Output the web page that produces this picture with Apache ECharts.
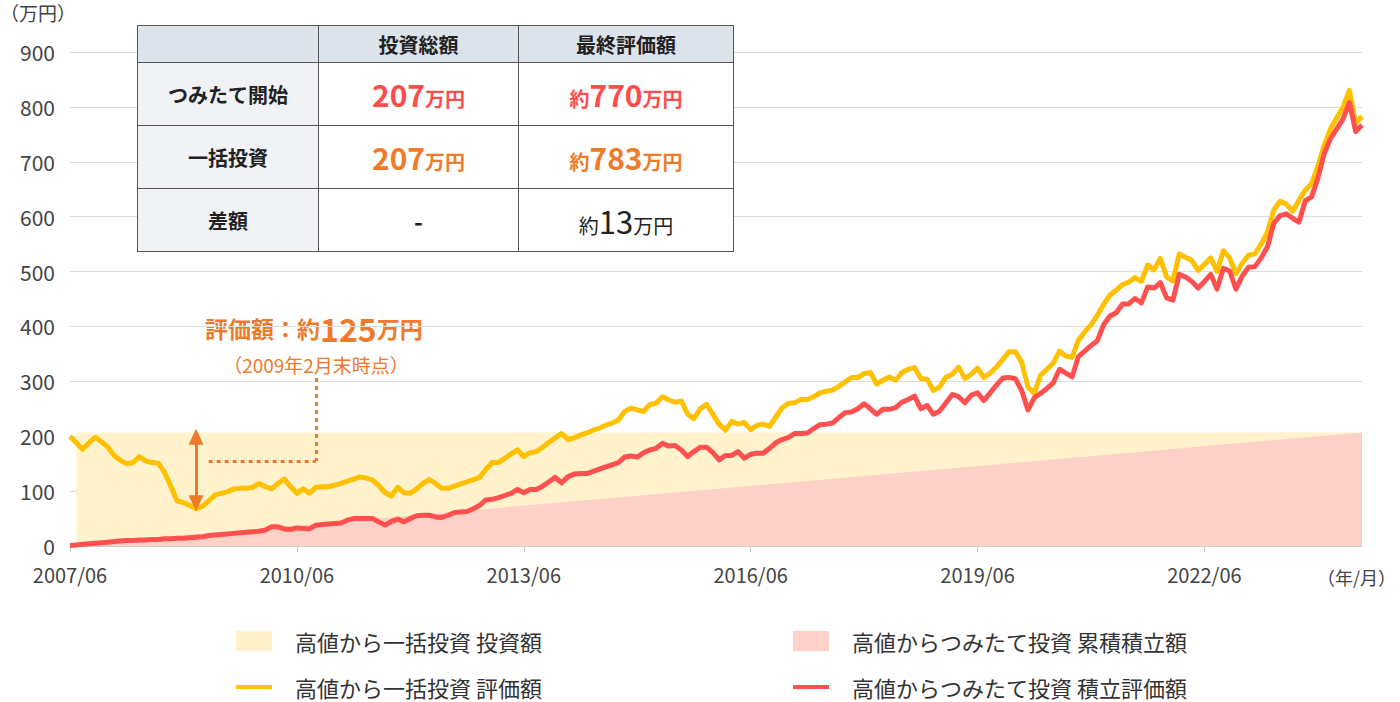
<!DOCTYPE html>
<html><head><meta charset="utf-8">
<script src="https://cdn.jsdelivr.net/npm/echarts@6.0.0/dist/echarts.min.js"></script>
<style>
html,body{margin:0;padding:0;background:#fff;}
#wrap{position:relative;width:1400px;height:702px;overflow:hidden;}
#chart{position:absolute;left:0;top:0;width:1400px;height:702px;}
#tbl{position:absolute;left:137px;top:25px;border-collapse:collapse;font-family:"Noto Sans CJK JP","Noto Sans",sans-serif;font-weight:bold;color:#222;table-layout:fixed;}
#tbl td{border:1px solid #555;text-align:center;vertical-align:middle;padding:0;background:#fff;white-space:nowrap;}
#tbl tr.hd td{background:#dde3ea;height:36px;font-size:20px;}
#tbl tr.rw td{height:62px;}
#tbl td.lab{background:#f0f2f6;font-size:20px;}
.big{font-size:30px;letter-spacing:0;}
.unit{font-size:20px;}
.dash{font-size:24px;font-weight:bold;}
.red{color:#ff4b4b;}
.org{color:#ee7a2a;}
.dk{color:#222;font-weight:normal;}
.dk .big{font-weight:normal;font-size:31px;}
</style>
</head><body>
<div id="wrap">
<div id="chart"></div>
<table id="tbl">
<colgroup><col style="width:181px"><col style="width:200px"><col style="width:215px"></colgroup>
<tr class="hd"><td></td><td>投資総額</td><td>最終評価額</td></tr>
<tr class="rw"><td class="lab">つみたて開始</td><td class="red"><span class="big">207</span><span class="unit">万円</span></td><td class="red"><span class="unit">約</span><span class="big">770</span><span class="unit">万円</span></td></tr>
<tr class="rw"><td class="lab">一括投資</td><td class="org"><span class="big">207</span><span class="unit">万円</span></td><td class="org"><span class="unit">約</span><span class="big">783</span><span class="unit">万円</span></td></tr>
<tr class="rw"><td class="lab">差額</td><td><span class="dash">-</span></td><td class="dk"><span class="unit">約</span><span class="big">13</span><span class="unit">万円</span></td></tr>
</table>
</div>
<script>
// ---- data ----
const startYear = 2007, startMonth = 6, monthCount = 206;
const months = [];
for (let k = 0; k < monthCount; k++) {
  const t = startMonth - 1 + k;
  months.push((startYear + Math.floor(t / 12)) + '/' + String(t % 12 + 1).padStart(2, '0'));
}
// 高値から一括投資 評価額 (万円, monthly)
const lumpSumValue = [
200,188,176,188,198,190,180,165,156,150,152,163,155,152,151,134,109,82,79,74,
68,72,82,93,96,99,104,105,105,107,114,108,104,114,122,108,96,104,96,107,
108,108,111,114,118,122,126,124,120,110,97,91,107,97,96,104,114,121,114,105,
105,109,113,117,121,125,140,152,152,160,168,175,163,170,172,180,189,197,205,194,
197,202,206,211,215,220,224,229,245,251,248,245,258,260,272,266,262,264,240,232,
250,258,240,222,211,227,222,225,212,220,222,218,235,252,260,261,267,267,272,279,
282,284,291,299,307,307,314,316,295,302,308,302,316,322,325,305,304,283,290,308,
313,326,305,313,324,307,315,326,340,354,354,335,290,278,311,322,333,355,346,344,
375,390,403,420,440,457,466,476,481,489,482,512,503,524,490,483,532,526,520,502,
513,525,500,538,525,496,515,530,532,550,572,612,628,623,610,630,648,660,692,730,
760,780,800,830,770,783];
// 高値からつみたて投資 積立評価額 (万円, monthly)
const tsumitateValue = [
1,2,3,4,5,6,7,8,9,10,10,11,11,12,12,13,13,14,14,15,
16,17,19,20,21,22,23,24,25,26,27,29,35,35,31,30,33,32,31,38,
39,40,41,42,47,50,50,50,50,44,38,45,49,44,50,55,56,56,53,52,
56,61,62,63,68,74,84,85,88,92,96,103,97,103,103,109,117,125,115,126,
131,132,132,136,140,144,148,152,162,164,162,170,175,178,187,182,183,175,163,172,
180,180,170,157,165,165,172,160,167,169,169,178,188,194,198,205,205,206,214,221,
222,224,234,243,244,250,259,250,240,249,249,252,262,267,273,250,256,240,246,261,
276,272,261,275,279,265,279,293,306,307,305,283,248,270,278,287,297,322,315,308,
345,355,365,374,403,419,425,441,441,451,443,472,470,480,452,448,495,490,482,470,
482,495,468,506,501,468,492,508,509,525,545,588,602,605,597,590,629,636,670,715,
742,760,778,808,755,767];
// 高値から一括投資 投資額 (万円)
const principalIdx = [1, 205];
const principalValue = [207, 207];
// 高値からつみたて投資 累積積立額 (万円)
const cumulativeIdx = [0, 205];
const cumulativeValue = [1, 207];
// y-axis ticks
const yMin = 0, yMax = 900, yStep = 100;

const FONT = '"Noto Sans CJK JP","Noto Sans",sans-serif';
const ORANGE = '#ee7a2b';
const pairs = (xs, ys) => xs.map((x, i) => [x, ys[i]]);

const chart = echarts.init(document.getElementById('chart'), null, {renderer: 'svg'});
const legendBase = (left, top, name, h, w) => ({
  left: left, top: top, padding: 0, selectedMode: false, icon: 'rect',
  itemWidth: w, itemHeight: h, data: [name],
  textStyle: {fontSize: 22, color: '#333', fontFamily: FONT, padding: [0, 0, 0, 18]}
});
chart.setOption({
  animation: false,
  textStyle: {fontFamily: FONT},
  grid: {left: 70, right: 38, top: 52, bottom: 156},
  xAxis: [{
    type: 'category', data: months, boundaryGap: false,
    axisLine: {lineStyle: {color: '#d0d0d0'}},
    axisTick: {interval: 35, length: 6, lineStyle: {color: '#c8c8c8'}},
    axisLabel: {interval: 35, fontSize: 20, color: '#444', margin: 18, fontFamily: FONT},
    splitLine: {show: false}
  }, {
    type: 'value', min: 0, max: monthCount - 1, show: false
  }],
  yAxis: {
    type: 'value', min: yMin, max: yMax, interval: yStep,
    axisLine: {show: false}, axisTick: {show: false},
    axisLabel: {fontSize: 21, color: '#444', margin: 15, fontFamily: FONT},
    splitLine: {lineStyle: {color: '#dcdcdc', width: 1}}
  },
  legend: [
    legendBase(236, 630, '高値から一括投資 投資額', 20, 36),
    legendBase(793, 630, '高値からつみたて投資 累積積立額', 20, 36),
    legendBase(236, 676, '高値から一括投資 評価額', 4, 36),
    legendBase(793, 676, '高値からつみたて投資 積立評価額', 4, 36)
  ],
  series: [{
    name: '高値から一括投資 投資額', type: 'line', xAxisIndex: 1,
    data: pairs(principalIdx, principalValue), symbol: 'none', silent: true,
    color: '#fff2cc', itemStyle: {color: '#fff2cc'},
    lineStyle: {width: 0, color: '#fff2cc'}, areaStyle: {color: '#fff2cc', opacity: 1}
  }, {
    name: '高値からつみたて投資 累積積立額', type: 'line', xAxisIndex: 1,
    data: pairs(cumulativeIdx, cumulativeValue), symbol: 'none', silent: true,
    color: '#fdd1c7', itemStyle: {color: '#fdd1c7'},
    lineStyle: {width: 0, color: '#fdd1c7'}, areaStyle: {color: '#fdd1c7', opacity: 1}
  }, {
    name: '高値から一括投資 評価額', type: 'line', xAxisIndex: 0,
    data: lumpSumValue, symbol: 'none', silent: true,
    color: '#ffc000', itemStyle: {color: '#ffc000'},
    lineStyle: {width: 5, color: '#ffc000', join: 'round'},
    markLine: {
      silent: true, animation: false, symbol: ['triangle', 'triangle'], symbolSize: [15, 16],
      label: {show: false}, emphasis: {disabled: true},
      lineStyle: {color: ORANGE, width: 3, type: 'solid'},
      data: [[{coord: [20, 199]}, {coord: [20, 78]}]]
    }
  }, {
    name: '高値からつみたて投資 積立評価額', type: 'line', xAxisIndex: 0,
    data: tsumitateValue, symbol: 'none', silent: true,
    color: '#ff5050', itemStyle: {color: '#ff5050'},
    lineStyle: {width: 5, color: '#ff5050', join: 'round'},
    markLine: {
      silent: true, animation: false, symbol: ['none', 'none'],
      label: {show: false}, emphasis: {disabled: true},
      lineStyle: {color: ORANGE, width: 3, type: [4, 4]},
      data: [
        [{coord: [39, 306]}, {coord: [39, 155]}],
        [{coord: [22, 155]}, {coord: [39, 155]}]
      ]
    }
  }],
  graphic: [
    {type: 'text', left: 0, top: 3, style: {text: '（万円）', fontSize: 19, fill: '#444', fontFamily: FONT}},
    {type: 'text', left: 1317, top: 568, style: {text: '（年/月）', fontSize: 18, fill: '#444', fontFamily: FONT}},
    {type: 'text', x: 205, y: 328, style: {
      text: '{a|評価額：約}{b|125}{a|万円}', align: 'left', verticalAlign: 'middle', fill: ORANGE,
      rich: {
        a: {fontSize: 23, fontWeight: 'bold', fill: ORANGE, fontFamily: FONT},
        b: {fontSize: 32, fontWeight: 'bold', fill: ORANGE, fontFamily: FONT}
      }}},
    {type: 'text', x: 316, y: 364, style: {
      text: '（2009年2月末時点）', align: 'center', verticalAlign: 'middle',
      fontSize: 19, fill: ORANGE, fontFamily: FONT}}
  ]
});
</script>
</body></html>
